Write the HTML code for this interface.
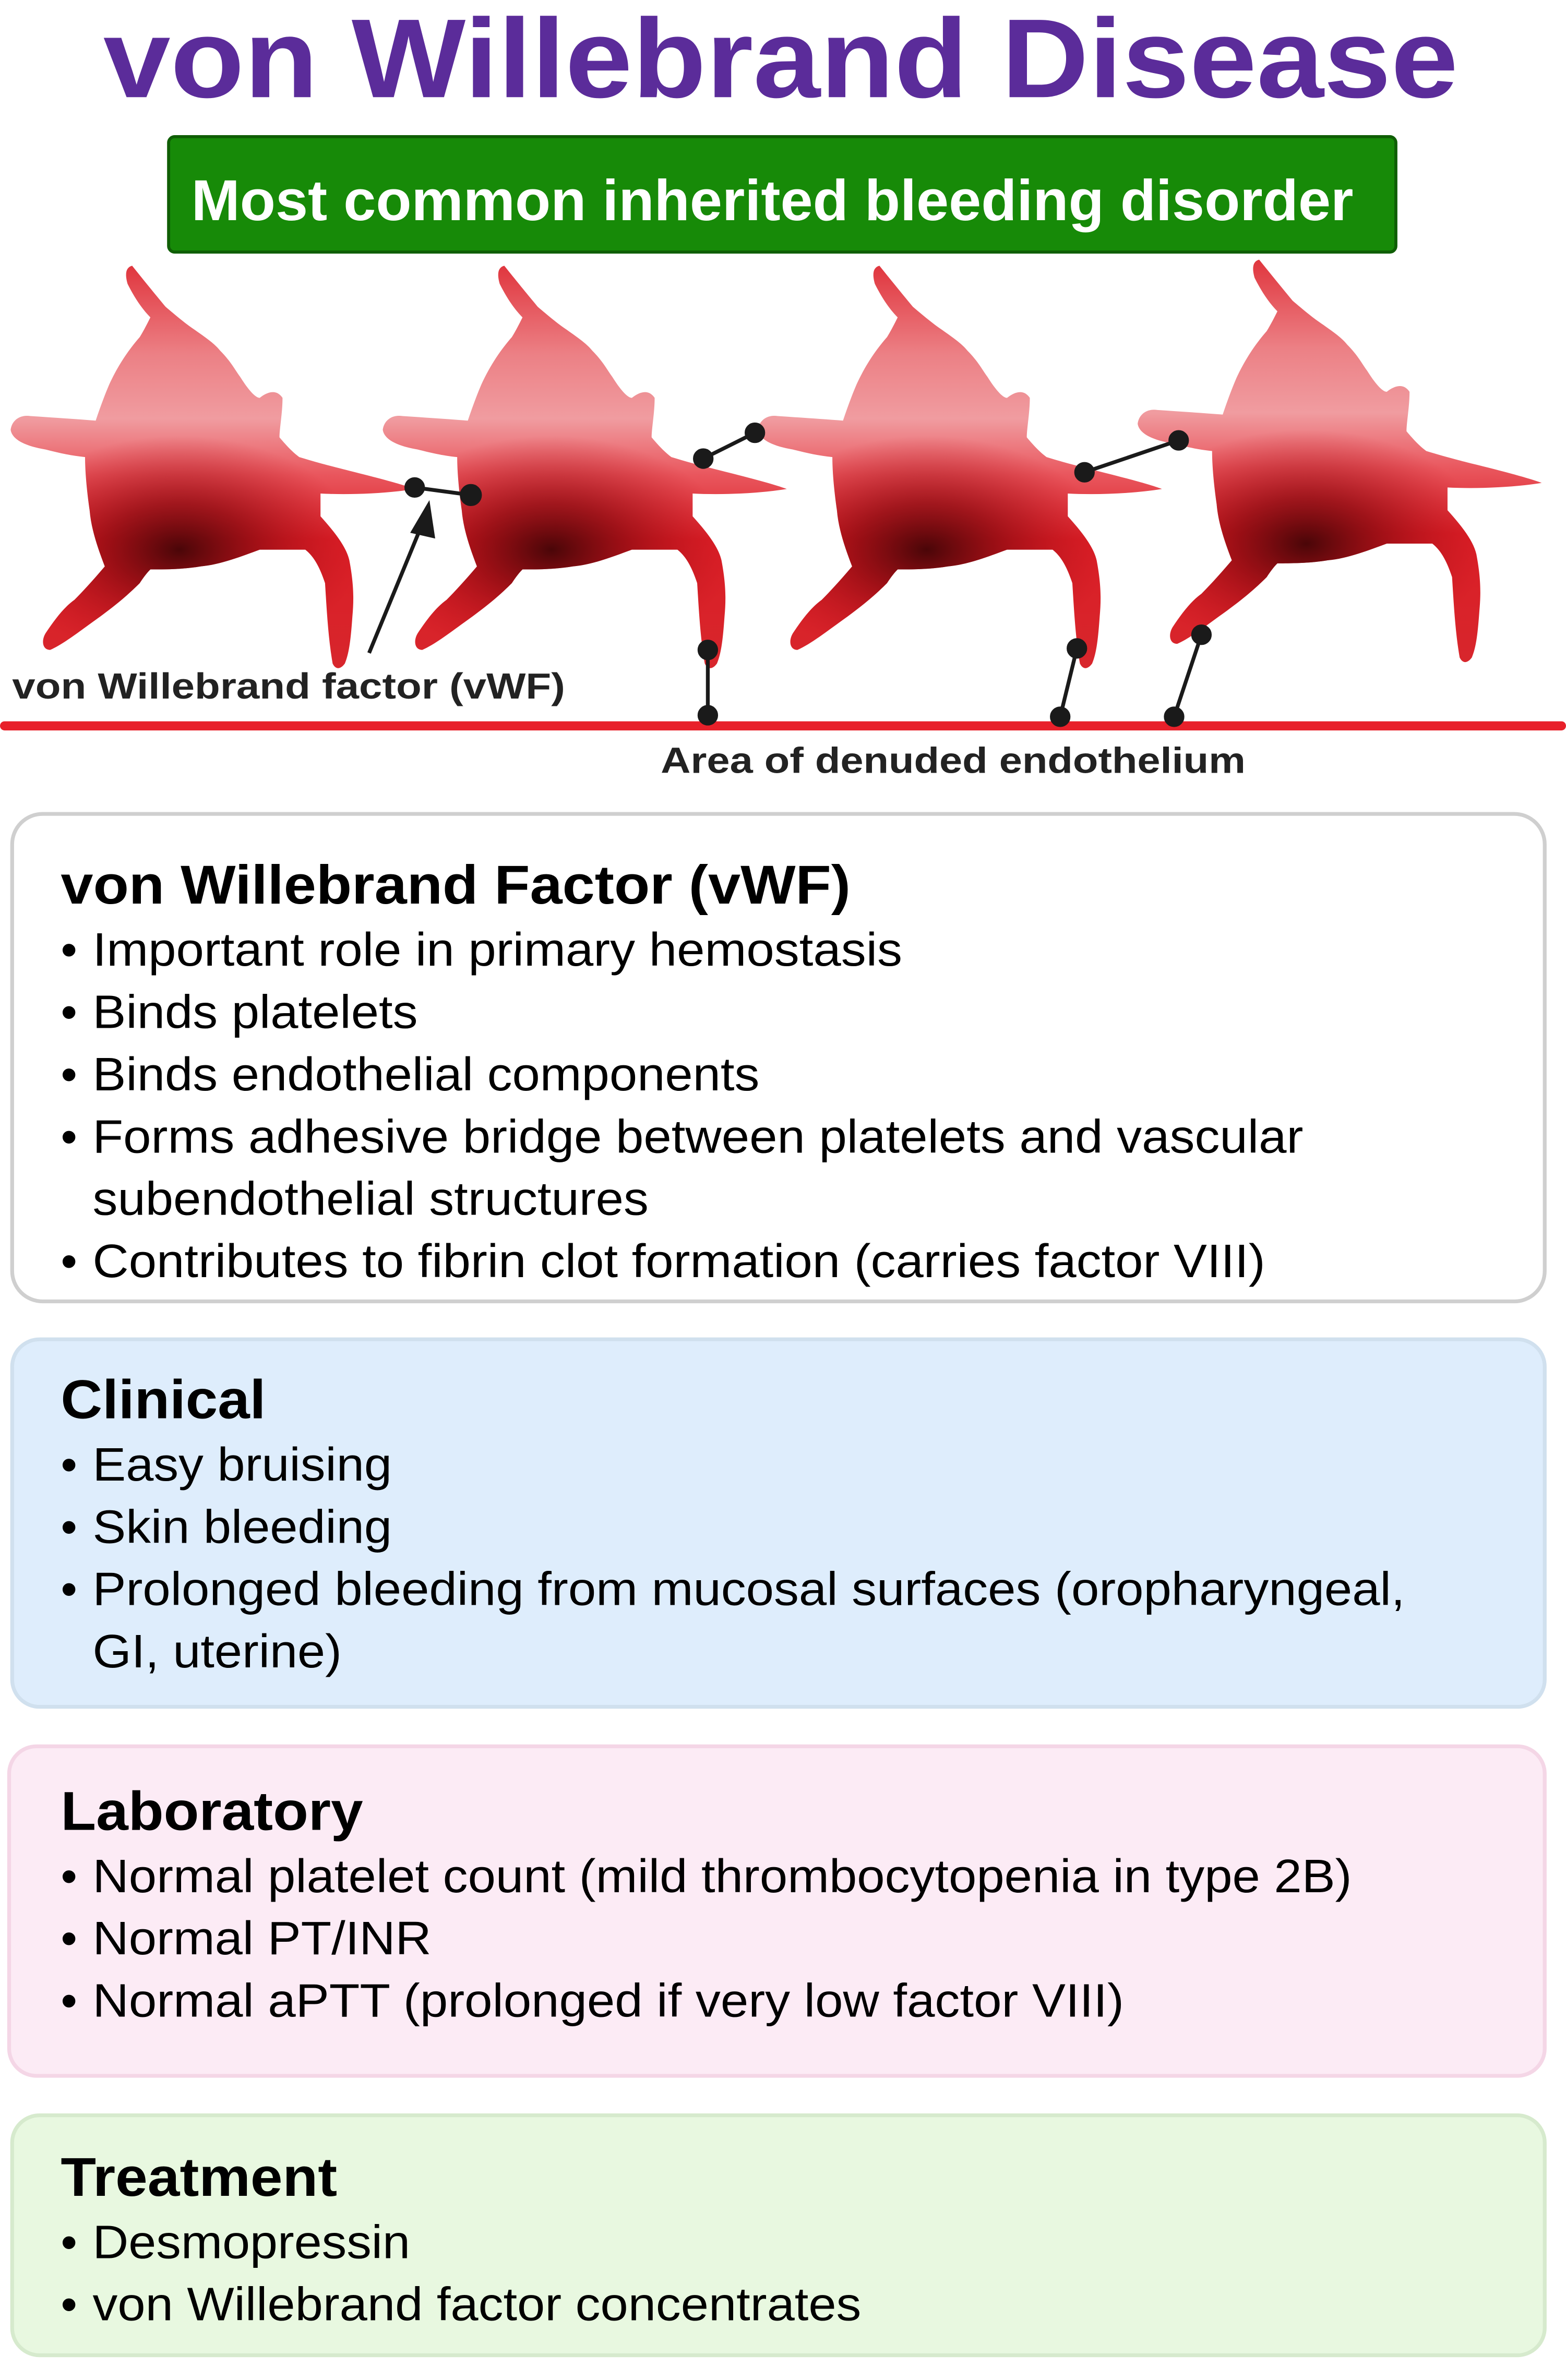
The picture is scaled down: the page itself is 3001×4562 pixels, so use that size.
<!DOCTYPE html>
<html><head><meta charset="utf-8"><style>
html,body{margin:0;padding:0;background:#fff;}
svg{display:block;}
text{font-family:"Liberation Sans",sans-serif;}
</style></head><body>
<svg width="3001" height="4562" viewBox="0 0 1031 1567.3" xmlns="http://www.w3.org/2000/svg">
<defs>
<linearGradient id="pl" x1="0" y1="175" x2="0" y2="440" gradientUnits="userSpaceOnUse">
<stop offset="0" stop-color="#e0363e"/>
<stop offset="0.22" stop-color="#ec8085"/>
<stop offset="0.38" stop-color="#f09ca0"/>
<stop offset="0.52" stop-color="#e9565d"/>
<stop offset="0.68" stop-color="#da1e26"/>
<stop offset="1" stop-color="#d8262c"/>
</linearGradient>
<radialGradient id="pd" cx="118" cy="362" r="100" gradientUnits="userSpaceOnUse" gradientTransform="translate(118,362) scale(1.2,0.75) translate(-118,-362)">
<stop offset="0" stop-color="#4a0608" stop-opacity="1"/>
<stop offset="0.4" stop-color="#8a0a10" stop-opacity="0.75"/>
<stop offset="1" stop-color="#c0101a" stop-opacity="0"/>
</radialGradient>
<path id="plat" d="M87,175 C95,185 104,196 109,202 C116,208 121,212 125,215 C135,222 141,226 145,231 C152,238 155,244 158,248 C163,256 168,262 171,262 C176,258 182,256 186,262 C186,272 184,282 184,288 C189,294 193,298 197,301 C210,305 222,308 230,310 C250,315 265,319 273,322 C255,325 230,326 211,325 C211,332 211,336 211,340 C220,350 228,360 230,369 C233,385 233,395 232,406 C231,420 230,430 227,437 C224,441 221,441 219,437 C216,420 215,400 214,384 C210,372 206,366 201,362 C190,362 180,362 171,362 C160,366 145,372 132,373 C120,375 108,375 99,375 C96,378 94,381 92,384 C82,394 74,400 66,406 C52,416 42,424 33,428 C28,428 27,422 30,417 C36,408 42,400 49,395 C56,388 63,380 69,373 C64,360 60,348 59,336 C57,322 56,310 56,301 C46,300 38,298 30,296 C18,294 8,290 7,283 C8,276 14,273 20,274 C35,275 50,276 63,277 C66,268 69,260 72,253 C78,240 85,230 92,222 C95,217 97,213 99,209 C93,203 88,195 84,187 C82,180 83,176 87,175 Z"/>
<g id="platfull"><use href="#plat" fill="url(#pl)"/><use href="#plat" fill="url(#pd)"/></g>
</defs>

<text x="68" y="64" font-size="74" font-weight="bold" fill="#5b2c9a" textLength="892" lengthAdjust="spacingAndGlyphs">von Willebrand Disease</text>

<g>
<rect x="111" y="90" width="808" height="76" rx="4" fill="#178a08" stroke="#0f5e05" stroke-width="2"/>
<text x="126" y="145" font-size="38" font-weight="bold" fill="#fff" textLength="765" lengthAdjust="spacingAndGlyphs">Most common inherited bleeding disorder</text>
</g>

<g>
<use href="#platfull"/>
<use href="#platfull" transform="translate(245,0)"/>
<use href="#platfull" transform="translate(492,0)"/>
<use href="#platfull" transform="translate(742,-4)"/>
<line x1="3" y1="478" x2="1028" y2="478" stroke="#e8202a" stroke-width="6" stroke-linecap="round"/>
<g stroke="#1a1a1a" stroke-width="2.5" fill="#1a1a1a">
<line x1="273" y1="321" x2="310" y2="326"/><circle cx="273" cy="321" r="5.5"/><circle cx="310" cy="326" r="6"/>
<line x1="463" y1="302" x2="497" y2="285"/><circle cx="463" cy="302" r="5.5"/><circle cx="497" cy="285" r="5.5"/>
<line x1="466" y1="428" x2="466" y2="471"/><circle cx="466" cy="428" r="5.5"/><circle cx="466" cy="471" r="5.5"/>
<line x1="714" y1="311" x2="776" y2="290"/><circle cx="714" cy="311" r="5.5"/><circle cx="776" cy="290" r="5.5"/>
<line x1="709" y1="427" x2="698" y2="472"/><circle cx="709" cy="427" r="5.5"/><circle cx="698" cy="472" r="5.5"/>
<line x1="791" y1="418" x2="773" y2="472"/><circle cx="791" cy="418" r="5.5"/><circle cx="773" cy="472" r="5.5"/>
<line x1="243" y1="430" x2="278" y2="345"/>
<polygon points="282,333 272,350 285,353"/>
</g>
<text x="8" y="460" font-size="24" font-weight="bold" fill="#222" textLength="364" lengthAdjust="spacingAndGlyphs">von Willebrand factor (vWF)</text>
<text x="435" y="509" font-size="24" font-weight="bold" fill="#222" textLength="385" lengthAdjust="spacingAndGlyphs">Area of denuded endothelium</text>
</g>

<g>
<rect x="8" y="536" width="1009" height="321" rx="20" fill="#fff" stroke="#cfcfcf" stroke-width="2.5"/>
<text x="40" y="595" font-size="36" font-weight="bold" fill="#000" textLength="520" lengthAdjust="spacingAndGlyphs">von Willebrand Factor (vWF)</text>
<g font-size="31" fill="#000">
<text x="40" y="636">•</text><text x="61" y="636" textLength="533" lengthAdjust="spacingAndGlyphs">Important role in primary hemostasis</text>
<text x="40" y="677">•</text><text x="61" y="677" textLength="214" lengthAdjust="spacingAndGlyphs">Binds platelets</text>
<text x="40" y="718">•</text><text x="61" y="718" textLength="439" lengthAdjust="spacingAndGlyphs">Binds endothelial components</text>
<text x="40" y="759">•</text><text x="61" y="759" textLength="797" lengthAdjust="spacingAndGlyphs">Forms adhesive bridge between platelets and vascular</text>
<text x="61" y="800" textLength="366" lengthAdjust="spacingAndGlyphs">subendothelial structures</text>
<text x="40" y="841">•</text><text x="61" y="841" textLength="772" lengthAdjust="spacingAndGlyphs">Contributes to fibrin clot formation (carries factor VIII)</text>
</g>
</g>

<g>
<rect x="8" y="882" width="1009" height="242" rx="18" fill="#deedfc" stroke="#d0e0ee" stroke-width="2.5"/>
<text x="40" y="934" font-size="36" font-weight="bold" fill="#000" textLength="135" lengthAdjust="spacingAndGlyphs">Clinical</text>
<g font-size="31" fill="#000">
<text x="40" y="975">•</text><text x="61" y="975" textLength="197" lengthAdjust="spacingAndGlyphs">Easy bruising</text>
<text x="40" y="1016">•</text><text x="61" y="1016" textLength="197" lengthAdjust="spacingAndGlyphs">Skin bleeding</text>
<text x="40" y="1057">•</text><text x="61" y="1057" textLength="864" lengthAdjust="spacingAndGlyphs">Prolonged bleeding from mucosal surfaces (oropharyngeal,</text>
<text x="61" y="1098" textLength="164" lengthAdjust="spacingAndGlyphs">GI, uterine)</text>
</g>
</g>

<g>
<rect x="6" y="1150" width="1011" height="217" rx="18" fill="#fcebf5" stroke="#f4d6e6" stroke-width="2.5"/>
<text x="40" y="1205" font-size="36" font-weight="bold" fill="#000" textLength="199" lengthAdjust="spacingAndGlyphs">Laboratory</text>
<g font-size="31" fill="#000">
<text x="40" y="1246">•</text><text x="61" y="1246" textLength="829" lengthAdjust="spacingAndGlyphs">Normal platelet count (mild thrombocytopenia in type 2B)</text>
<text x="40" y="1287">•</text><text x="61" y="1287" textLength="223" lengthAdjust="spacingAndGlyphs">Normal PT/INR</text>
<text x="40" y="1328">•</text><text x="61" y="1328" textLength="679" lengthAdjust="spacingAndGlyphs">Normal aPTT (prolonged if very low factor VIII)</text>
</g>
</g>

<g>
<rect x="8" y="1393" width="1009" height="158" rx="18" fill="#e8f8e0" stroke="#d6eacd" stroke-width="2.5"/>
<text x="40" y="1446" font-size="36" font-weight="bold" fill="#000" textLength="182" lengthAdjust="spacingAndGlyphs">Treatment</text>
<g font-size="31" fill="#000">
<text x="40" y="1487">•</text><text x="61" y="1487" textLength="209" lengthAdjust="spacingAndGlyphs">Desmopressin</text>
<text x="40" y="1528">•</text><text x="61" y="1528" textLength="506" lengthAdjust="spacingAndGlyphs">von Willebrand factor concentrates</text>
</g>
</g>
</svg>
</body></html>
